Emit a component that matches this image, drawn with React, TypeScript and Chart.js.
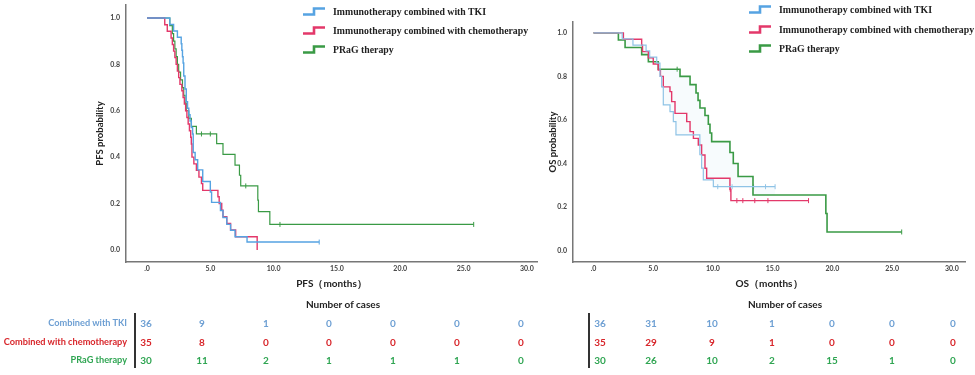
import React, { useEffect, useRef } from "react";
import { Chart, registerables } from "chart.js";
Chart.register(...registerables);

// ---------- data ----------
const X_TICKS = [0, 5, 10, 15, 20, 25, 30];
const Y_TICKS = [0, 0.2, 0.4, 0.6, 0.8, 1.0];

const GROUPS = ["Immunotherapy combined with TKI", "Immunotherapy combined with chemotherapy", "PRaG therapy"];
const ROW_LABELS = ["Combined with TKI", "Combined with chemotherapy", "PRaG therapy"];

// PFS curves (time in months, survival probability)
const PFS_TKI_TIME = [0, 1.8, 2.1, 2.4, 2.7, 2.75, 2.8, 2.85, 2.9, 3.0, 3.1, 3.2, 3.3, 3.4, 3.5, 3.6, 3.65, 3.8, 4.0, 4.4, 5.0, 5.1, 5.8, 6.0, 6.3, 6.6, 6.95, 7.9, 13.6];
const PFS_TKI_SURV = [1, 0.972, 0.944, 0.917, 0.889, 0.861, 0.833, 0.806, 0.75, 0.694, 0.639, 0.611, 0.583, 0.556, 0.528, 0.5, 0.42, 0.389, 0.345, 0.295, 0.25, 0.205, 0.17, 0.14, 0.11, 0.085, 0.057, 0.034, 0.034];
const PFS_CHEMO_TIME = [0, 1.4, 1.6, 1.9, 2.0, 2.1, 2.2, 2.3, 2.4, 2.5, 2.6, 2.75, 2.85, 2.95, 3.05, 3.15, 3.25, 3.35, 3.45, 3.5, 3.55, 3.7, 3.9, 4.1, 4.3, 4.4, 5.6, 5.7, 5.9, 6.0, 6.3, 6.6, 7.0, 8.7];
const PFS_CHEMO_SURV = [1, 0.971, 0.943, 0.914, 0.886, 0.857, 0.829, 0.8, 0.771, 0.743, 0.714, 0.686, 0.657, 0.629, 0.6, 0.571, 0.543, 0.514, 0.486, 0.457, 0.4, 0.371, 0.343, 0.314, 0.286, 0.257, 0.229, 0.2, 0.171, 0.143, 0.114, 0.086, 0.057, 0.0];
const PFS_PRAG_TIME = [0, 1.8, 2.0, 2.1, 2.2, 2.3, 2.4, 2.5, 2.65, 2.8, 2.9, 3.0, 3.1, 3.3, 3.5, 3.9, 5.5, 6.0, 6.95, 7.3, 7.4, 8.75, 8.8, 9.7, 25.8];
const PFS_PRAG_SURV = [1, 0.967, 0.933, 0.9, 0.867, 0.833, 0.8, 0.767, 0.733, 0.7, 0.667, 0.633, 0.6, 0.567, 0.533, 0.5, 0.458, 0.412, 0.366, 0.322, 0.276, 0.215, 0.165, 0.11, 0.11];
const PFS_TKI_CENS_TIME = [13.6];
const PFS_TKI_CENS_SURV = [0.034];
const PFS_CHEMO_CENS_TIME: number[] = [];
const PFS_CHEMO_CENS_SURV: number[] = [];
const PFS_PRAG_CENS_TIME = [4.3, 5.0, 7.8, 10.5, 25.8];
const PFS_PRAG_CENS_SURV = [0.5, 0.5, 0.276, 0.11, 0.11];

// OS curves
const OS_TKI_TIME = [0, 2.4, 3.3, 4.4, 4.7, 5.29, 5.56, 5.7, 5.84, 6.4, 6.68, 6.9, 8.9, 9.05, 9.19, 10.03, 15.2];
const OS_TKI_SURV = [1, 0.972, 0.944, 0.917, 0.889, 0.861, 0.8, 0.752, 0.669, 0.638, 0.592, 0.531, 0.44, 0.378, 0.324, 0.293, 0.293];
const OS_CHEMO_TIME = [0, 2.5, 4.03, 4.1, 4.59, 5.0, 5.42, 5.6, 5.84, 6.4, 6.54, 6.82, 7.8, 8.08, 8.36, 8.77, 9.05, 9.33, 9.47, 11.42, 11.5, 18.0];
const OS_CHEMO_SURV = [1, 0.971, 0.943, 0.914, 0.886, 0.857, 0.829, 0.8, 0.752, 0.73, 0.684, 0.63, 0.592, 0.546, 0.515, 0.485, 0.439, 0.378, 0.332, 0.28, 0.229, 0.229];
const OS_PRAG_TIME = [0, 2.08, 2.64, 4.03, 4.59, 5.42, 7.24, 8.08, 8.58, 8.75, 8.91, 9.33, 9.61, 9.75, 9.89, 11.42, 11.7, 12.1, 13.35, 19.45, 19.55, 25.8];
const OS_PRAG_SURV = [1, 0.967, 0.933, 0.9, 0.867, 0.833, 0.8, 0.762, 0.724, 0.69, 0.655, 0.62, 0.58, 0.54, 0.5, 0.45, 0.4, 0.34, 0.255, 0.17, 0.085, 0.085];
const OS_TKI_CENS_TIME = [10.4, 11.6, 13.4, 14.4, 15.2];
const OS_TKI_CENS_SURV = [0.293, 0.293, 0.293, 0.293, 0.293];
const OS_CHEMO_CENS_TIME = [11.45, 12.0, 12.5, 13.5, 14.6, 18.0];
const OS_CHEMO_CENS_SURV = [0.28, 0.229, 0.229, 0.229, 0.229, 0.229];
const OS_PRAG_CENS_TIME = [7.0, 25.8];
const OS_PRAG_CENS_SURV = [0.833, 0.085];

// numbers at risk
const PFS_RISK_TKI = [36, 9, 1, 0, 0, 0, 0];
const PFS_RISK_CHEMO = [35, 8, 0, 0, 0, 0, 0];
const PFS_RISK_PRAG = [30, 11, 2, 1, 1, 1, 0];
const OS_RISK_TKI = [36, 31, 10, 1, 0, 0, 0];
const OS_RISK_CHEMO = [35, 29, 9, 1, 0, 0, 0];
const OS_RISK_PRAG = [30, 26, 10, 2, 15, 1, 0];

// ---------- styles ----------
const C_TKI = "#56a3e2";
const C_CHEMO = "#e3386a";
const C_PRAG = "#3a9a45";
const C_OS_TKI = "#8fc3e6";
const T_TKI = "#6d9fd3";
const T_CHEMO = "#d8262b";
const T_PRAG = "#2fa552";
const SANS = "Lato, 'Open Sans', 'Liberation Sans', sans-serif";
const SERIF = "'Liberation Serif', 'DejaVu Serif', serif";

type Curve = { time: number[]; surv: number[]; color: string; width: number; fillTo?: number; fillColor?: string };
type Cens = { time: number[]; surv: number[]; color: string };

type KMProps = {
  left: number; w: number; h: number;
  curves: Curve[]; censors: Cens[];
  xMin: number; xMax: number; yMin: number; yMax: number;
  pad: { left: number; top: number; right: number; bottom: number };
  yAxisWidth: number; xAxisHeight: number;
  xTitle: string; yTitle: string;
};

function KMChart(p: KMProps) {
  const ref = useRef<HTMLCanvasElement>(null);
  useEffect(() => {
    if (!ref.current) return;
    const datasets: any[] = [];
    p.curves.forEach((c) => {
      datasets.push({
        data: c.time.map((t, i) => ({ x: t, y: c.surv[i] })),
        showLine: true,
        stepped: true,
        borderColor: c.color,
        borderWidth: c.width,
        pointRadius: 0,
        pointHoverRadius: 0,
        fill: c.fillTo !== undefined ? { target: c.fillTo, above: c.fillColor, below: c.fillColor } : false,
        backgroundColor: c.fillColor || "transparent",
      });
    });
    p.censors.forEach((c) => {
      datasets.push({
        data: c.time.map((t, i) => ({ x: t, y: c.surv[i] })),
        showLine: false,
        pointStyle: "line",
        rotation: 90,
        pointRadius: 2.5,
        pointBorderWidth: 1,
        borderColor: c.color,
        backgroundColor: c.color,
      });
    });
    const tickFont = { family: SANS, size: 7, weight: "bold" as const };
    const chart = new Chart(ref.current, {
      type: "scatter",
      data: { datasets },
      options: {
        animation: false,
        responsive: false,
        events: [],
        layout: { padding: p.pad },
        plugins: { legend: { display: false }, tooltip: { enabled: false } },
        scales: {
          x: {
            type: "linear",
            min: p.xMin,
            max: p.xMax,
            afterBuildTicks: (s: any) => { s.ticks = X_TICKS.map((v) => ({ value: v })); },
            afterFit: (s: any) => { s.height = p.xAxisHeight; },
            ticks: {
              autoSkip: false, maxRotation: 0, padding: 0, color: "#444", font: tickFont,
              callback: (v: any) => (Number(v) === 0 ? ".0" : Number(v).toFixed(1)),
            },
            grid: { display: false, drawTicks: true, tickLength: 3 },
            border: { display: true, color: "#777", width: 1.5 },
            title: { display: true, text: p.xTitle, color: "#222", font: { family: SANS, size: 10, weight: "bold" }, padding: { top: 0, bottom: 10 } },
          },
          y: {
            type: "linear",
            min: p.yMin,
            max: p.yMax,
            afterBuildTicks: (s: any) => { s.ticks = Y_TICKS.map((v) => ({ value: v })); },
            afterFit: (s: any) => { s.width = p.yAxisWidth; },
            ticks: {
              autoSkip: false, padding: 0, color: "#444", font: tickFont,
              callback: (v: any) => Number(v).toFixed(1),
            },
            grid: { display: false, drawTicks: true, tickLength: 6 },
            border: { display: true, color: "#777", width: 1.5 },
            title: { display: true, text: p.yTitle, color: "#222", font: { family: SANS, size: 9.5, weight: "bold" }, padding: { top: 4.5, bottom: 0 } },
          },
        },
      },
    } as any);
    return () => chart.destroy();
  }, []);
  return (
    <canvas
      ref={ref}
      width={p.w}
      height={p.h}
      style={{ position: "absolute", left: p.left, top: 0, width: p.w, height: p.h }}
    />
  );
}

function StepIcon({ color }: { color: string }) {
  return (
    <svg width={24} height={9} style={{ display: "block" }}>
      <path d="M1,7.5 H12 V1.5 H23" fill="none" stroke={color} strokeWidth={2.6} />
    </svg>
  );
}

function Legend({ iconX, textX, rows }: { iconX: number; textX: number; rows: number[] }) {
  const colors = [C_TKI, C_CHEMO, C_PRAG];
  return (
    <>
      {GROUPS.map((g, i) => (
        <React.Fragment key={g}>
          <div style={{ position: "absolute", left: iconX, top: rows[i] - 5 }}>
            <StepIcon color={colors[i]} />
          </div>
          <div
            style={{
              position: "absolute", left: textX, top: rows[i] - 7, height: 14, lineHeight: "14px",
              fontFamily: SERIF, fontWeight: "bold", fontSize: 9.8, color: "#222", whiteSpace: "nowrap",
            }}
          >
            {g}
          </div>
        </React.Fragment>
      ))}
    </>
  );
}

function RiskTable({ titleX, lineX, cols, rows, labels }: { titleX: number; lineX: number; cols: number[]; rows: number[][]; labels: boolean }) {
  const colors = [T_TKI, T_CHEMO, T_PRAG];
  const rowY = [323, 342, 360];
  return (
    <>
      <div
        style={{
          position: "absolute", left: titleX - 60, width: 120, top: 297, textAlign: "center",
          fontFamily: SANS, fontWeight: "bold", fontSize: 10, color: "#222", lineHeight: "14px",
        }}
      >
        Number of cases
      </div>
      <div style={{ position: "absolute", left: lineX, top: 313, width: 1.5, height: 55, background: "#333" }} />
      {labels &&
        ROW_LABELS.map((l, i) => (
          <div
            key={l}
            style={{
              position: "absolute", right: 975 - 127, top: rowY[i] - 7, lineHeight: "14px", whiteSpace: "nowrap",
              fontFamily: SANS, fontWeight: "bold", fontSize: 9.2, color: colors[i], textAlign: "right",
            }}
          >
            {l}
          </div>
        ))}
      {rows.map((r, i) =>
        r.map((v, j) => (
          <div
            key={i + "-" + j}
            style={{
              position: "absolute", left: cols[j] - 15, width: 30, top: rowY[i] - 7, lineHeight: "14px", textAlign: "center",
              fontFamily: SANS, fontWeight: "bold", fontSize: 10, color: colors[i],
            }}
          >
            {v}
          </div>
        ))
      )}
    </>
  );
}

const LEFT_COLS = [146, 202, 266, 329, 393, 457, 521];
const RIGHT_COLS = [600, 651, 712, 772, 832, 892, 953];

export default function App() {
  return (
    <div style={{ position: "absolute", left: 0, top: 0, width: 975, height: 375, background: "#fff", overflow: "hidden" }}>
      <KMChart
        left={0} w={545} h={300}
        curves={[
          { time: PFS_TKI_TIME, surv: PFS_TKI_SURV, color: C_TKI, width: 1.4 },
          { time: PFS_CHEMO_TIME, surv: PFS_CHEMO_SURV, color: C_CHEMO, width: 1.4 },
          { time: PFS_PRAG_TIME, surv: PFS_PRAG_SURV, color: C_PRAG, width: 1.2 },
        ]}
        censors={[
          { time: PFS_TKI_CENS_TIME, surv: PFS_TKI_CENS_SURV, color: C_TKI },
          { time: PFS_CHEMO_CENS_TIME, surv: PFS_CHEMO_CENS_SURV, color: C_CHEMO },
          { time: PFS_PRAG_CENS_TIME, surv: PFS_PRAG_CENS_SURV, color: C_PRAG },
        ]}
        xMin={-1.66} xMax={30.8} yMin={-0.052} yMax={1.056}
        pad={{ left: 90, top: 5, right: 8, bottom: 0 }}
        yAxisWidth={36} xAxisHeight={38}
        xTitle="PFS（months）" yTitle="PFS probability"
      />
      <KMChart
        left={487} w={488} h={300}
        curves={[
          { time: OS_TKI_TIME, surv: OS_TKI_SURV, color: C_OS_TKI, width: 1.2 },
          { time: OS_CHEMO_TIME, surv: OS_CHEMO_SURV, color: C_CHEMO, width: 1.4 },
          { time: OS_PRAG_TIME, surv: OS_PRAG_SURV, color: C_PRAG, width: 1.6, fillTo: 0, fillColor: "rgba(200,226,240,0.14)" },
        ]}
        censors={[
          { time: OS_TKI_CENS_TIME, surv: OS_TKI_CENS_SURV, color: C_OS_TKI },
          { time: OS_CHEMO_CENS_TIME, surv: OS_CHEMO_CENS_SURV, color: C_CHEMO },
          { time: OS_PRAG_CENS_TIME, surv: OS_PRAG_CENS_SURV, color: C_PRAG },
        ]}
        xMin={-1.72} xMax={31.1} yMin={-0.053} yMax={1.05}
        pad={{ left: 56, top: 22, right: 10, bottom: 0 }}
        yAxisWidth={30} xAxisHeight={38}
        xTitle="OS（months）" yTitle="OS probability"
      />
      <Legend iconX={302} textX={333} rows={[12, 31, 50]} />
      <Legend iconX={748} textX={779} rows={[10, 30, 49]} />
      <RiskTable titleX={343} lineX={134} cols={LEFT_COLS} rows={[PFS_RISK_TKI, PFS_RISK_CHEMO, PFS_RISK_PRAG]} labels={true} />
      <RiskTable titleX={785} lineX={588} cols={RIGHT_COLS} rows={[OS_RISK_TKI, OS_RISK_CHEMO, OS_RISK_PRAG]} labels={false} />
    </div>
  );
}
